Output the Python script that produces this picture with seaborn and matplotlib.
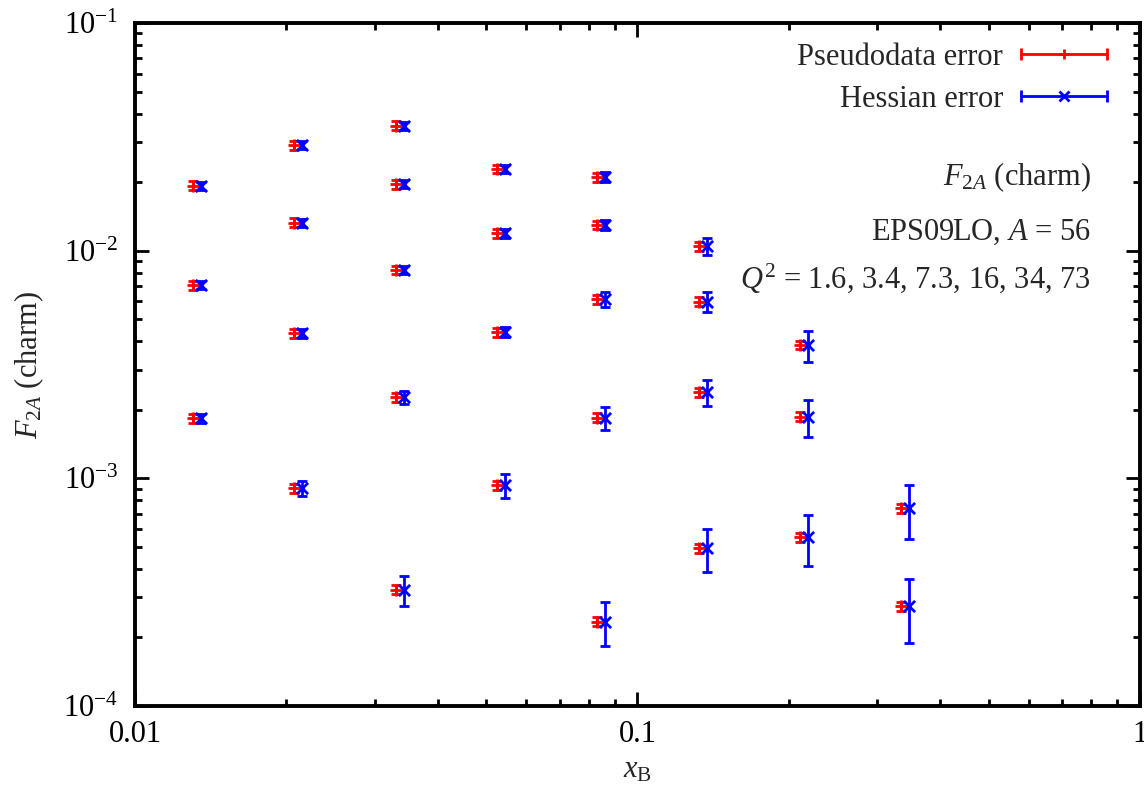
"""F2A charm pseudodata vs Hessian error bands, EPS09LO."""

import matplotlib
matplotlib.use('Agg')
import matplotlib.pyplot as plt
import numpy as np
import pandas as pd
import seaborn as sns
from matplotlib.legend_handler import HandlerBase
from matplotlib.lines import Line2D
from matplotlib.ticker import FixedLocator, FuncFormatter, LogLocator, NullFormatter

# x_B bins (pseudodata drawn slightly left of the Hessian points)
x_hessian = [0.01353, 0.02149, 0.03430, 0.05448, 0.08615, 0.1375, 0.2184, 0.3470]
x_pseudo = [0.01304, 0.02072, 0.03307, 0.05252, 0.08305, 0.1326, 0.2105, 0.3345]

# which x bin each point belongs to
bin_idx = [0, 0, 0,
           1, 1, 1, 1,
           2, 2, 2, 2, 2,
           3, 3, 3, 3,
           4, 4, 4, 4, 4,
           5, 5, 5, 5,
           6, 6, 6,
           7, 7]

f2_charm = [0.0193, 0.00707, 0.001836,
            0.02904, 0.01327, 0.004337, 0.000905,
            0.0354, 0.01963, 0.00823, 0.002271, 0.000324,
            0.02285, 0.01192, 0.004381, 0.000935,
            0.02101, 0.01297, 0.00612, 0.001848, 0.000235,
            0.01048, 0.00597, 0.002388, 0.000493,
            0.003853, 0.001866, 0.000551,
            0.000739, 0.000275]

err_pseudo = [0.00087, 0.00032, 0.000083,
              0.0013, 0.0006, 0.0002, 0.000041,
              0.0016, 0.00088, 0.00037, 0.0001, 0.0000146,
              0.001, 0.00054, 0.0002, 0.000042,
              0.00095, 0.00058, 0.00028, 0.000083, 0.0000106,
              0.00047, 0.00027, 0.00011, 0.000022,
              0.00017, 0.000084, 0.000025,
              0.000033, 0.0000124]

err_hessian = [0.0008, 0.0003, 0.00008,
               0.0012, 0.00055, 0.0002, 0.000068,
               0.0014, 0.0008, 0.00036, 0.00015, 0.000049,
               0.001, 0.00052, 0.00022, 0.000113,
               0.00105, 0.0007, 0.00046, 0.00021, 0.000052,
               0.0009, 0.0006, 0.00032, 0.000105,
               0.0006, 0.00035, 0.000137,
               0.0002, 0.000085]

x_major = [0.01, 0.1, 1]
x_major_labels = ['0.01', '0.1', '1']

df = pd.DataFrame({'bin': bin_idx, 'F2': f2_charm,
                   'err_pseudo': err_pseudo, 'err_hessian': err_hessian})
df['x_pseudo'] = np.array(x_pseudo)[df['bin']]
df['x_hessian'] = np.array(x_hessian)[df['bin']]


class Key:
    def __init__(self, color, marker):
        self.color = color
        self.marker = marker


class ErrorKeyHandler(HandlerBase):
    # gnuplot style key: horizontal bar with end caps, point in the middle
    def create_artists(self, legend, orig_handle, xdescent, ydescent,
                       width, height, fontsize, trans):
        y = height / 2 - ydescent
        x0, x1 = -xdescent, width - xdescent
        bar = Line2D([x0, x1], [y, y], color=orig_handle.color, lw=2.0)
        caps = Line2D([x0, x1], [y, y], ls='none', marker='|', ms=8,
                      mew=2.0, color=orig_handle.color)
        mk = Line2D([(x0 + x1) / 2], [y], ls='none', marker=orig_handle.marker,
                    ms=7.5, mew=2.0, color=orig_handle.color)
        for a in (bar, caps, mk):
            a.set_transform(trans)
        return [bar, caps, mk]


sns.set_theme(style='ticks')
plt.rcParams['font.family'] = ['Liberation Serif', 'DejaVu Serif']
plt.rcParams['mathtext.fontset'] = 'custom'
plt.rcParams['mathtext.rm'] = 'Liberation Serif'
plt.rcParams['mathtext.it'] = 'Liberation Serif:italic'
plt.rcParams['mathtext.bf'] = 'Liberation Serif:bold'

fs = 22
fig = plt.figure(figsize=(11.44, 7.99), dpi=100)
ax = fig.add_axes([0.118, 0.1164, 0.8785, 0.8548])

ax.errorbar(df['x_pseudo'], df['F2'], yerr=df['err_pseudo'], fmt='none',
            ecolor='red', elinewidth=2.0, capsize=3.8, capthick=2.0, zorder=2)
sns.scatterplot(data=df, x='x_pseudo', y='F2', marker='+', color='red',
                s=65, linewidth=2.0, legend=False, ax=ax, zorder=3)
ax.errorbar(df['x_hessian'], df['F2'], yerr=df['err_hessian'], fmt='none',
            ecolor='blue', elinewidth=2.0, capsize=3.8, capthick=2.0, zorder=4)
sns.scatterplot(data=df, x='x_hessian', y='F2', marker='x', color='blue',
                s=65, linewidth=2.0, legend=False, ax=ax, zorder=5)

ax.set_xscale('log')
ax.set_yscale('log')
ax.set_xlim(0.01, 1)
ax.set_ylim(1e-4, 1e-1)

ax.xaxis.set_major_locator(FixedLocator(x_major))
ax.xaxis.set_major_formatter(FuncFormatter(lambda v, p: x_major_labels[x_major.index(v)] if v in x_major else ''))
ax.xaxis.set_minor_locator(LogLocator(base=10, subs=np.arange(2, 10)))
ax.xaxis.set_minor_formatter(NullFormatter())
ax.yaxis.set_major_locator(LogLocator(base=10, numticks=10))
ax.yaxis.set_major_formatter(FuncFormatter(lambda v, p: r'$10^{%d}$' % round(np.log10(v))))
ax.yaxis.set_minor_locator(LogLocator(base=10, subs=np.arange(2, 10), numticks=20))
ax.yaxis.set_minor_formatter(NullFormatter())

for s in ax.spines.values():
    s.set_linewidth(2.8)
    s.set_color('black')
ax.tick_params(which='both', direction='in', top=True, right=True,
               colors='black', labelsize=fs)
ax.tick_params(which='major', length=10, width=2.0)
ax.tick_params(which='minor', length=5, width=2.0)
ax.tick_params(axis='x', which='major', pad=10)
ax.tick_params(axis='y', which='major', pad=12)

ax.set_xlabel(r'$x_\mathrm{B}$', fontsize=fs)
ax.set_ylabel(r'$F_{2A}$ (charm)', fontsize=fs)
ax.xaxis.set_label_coords(0.5, -0.072)
ax.yaxis.set_label_coords(-0.089, 0.5)

ax.text(0.951, 0.763, r'$F_{2A}$ (charm)', transform=ax.transAxes,
        ha='right', va='baseline', fontsize=fs)
ax.text(0.951, 0.682, r'EPS09LO, $A$ = 56', transform=ax.transAxes,
        ha='right', va='baseline', fontsize=fs)
ax.text(0.951, 0.612, r'$Q^2$ = 1.6, 3.4, 7.3, 16, 34, 73', transform=ax.transAxes,
        ha='right', va='baseline', fontsize=fs)

leg = ax.legend([Key('red', '+'), Key('blue', 'x')],
                ['Pseudodata error', 'Hessian error'],
                handler_map={Key: ErrorKeyHandler()},
                loc='upper right', bbox_to_anchor=(0.967, 0.971),
                frameon=False, markerfirst=False, handlelength=2.8,
                handletextpad=0.6, labelspacing=0.42, borderpad=0,
                borderaxespad=0, fontsize=fs)
for col in leg._legend_handle_box._children:
    col.align = 'right'

fig.savefig('out.png', dpi=100)
